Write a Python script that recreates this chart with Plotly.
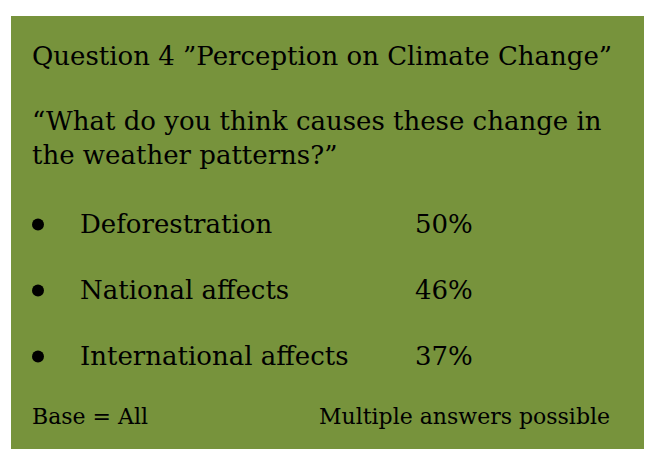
import plotly.graph_objects as go

# ---- data ----
title_text = "Question 4 \u201dPerception on Climate Change\u201d"
question_lines = ["\u201cWhat do you think causes these change in", "the weather patterns?\u201d"]
items = ["Deforestration", "National affects", "International affects"]
values = [50, 46, 37]
footer_left = "Base = All"
footer_right = "Multiple answers possible"

# ---- style / layout ----
W, H = 652, 449
BODY_MARGIN = 8  # default page margin around the plot div
GREEN = "#77933C"
FONT = "DejaVu Serif"
BIG = 26
SMALL = 22

fig = go.Figure()

# row centers (screen pixel space, y downwards)
item_rows = [223.5 + i * 66 for i in range(len(items))]

# bullets
fig.add_trace(go.Scatter(
    x=[38] * len(items), y=[r + 1 for r in item_rows], mode="markers",
    marker=dict(color="black", size=12, symbol="circle"),
    hoverinfo="skip", showlegend=False,
))

ann = []
def add_text(x, y, txt, size=BIG):
    ann.append(dict(x=x, y=y, xref="x", yref="y", text=txt, showarrow=False,
                    xanchor="left", yanchor="middle",
                    font=dict(family=FONT, size=size, color="black")))

add_text(30, 56, title_text)
add_text(30, 121, question_lines[0])
add_text(30, 155, question_lines[1])
for y, name, v in zip(item_rows, items, values):
    add_text(78, y, name)
    add_text(413, y, f"{v}%")
add_text(30, 416.5, footer_left, SMALL)
add_text(317, 416.5, footer_right, SMALL)

fig.update_layout(
    width=W - BODY_MARGIN, height=H - BODY_MARGIN,
    margin=dict(l=0, r=0, t=0, b=0),
    paper_bgcolor="white", plot_bgcolor="white",
    xaxis=dict(range=[BODY_MARGIN, W], visible=False, fixedrange=True),
    yaxis=dict(range=[H, BODY_MARGIN], visible=False, fixedrange=True),
    shapes=[dict(type="rect", xref="x", yref="y", x0=11, x1=649, y0=16, y1=H,
                 fillcolor=GREEN, line=dict(width=0), layer="below")],
    annotations=ann,
)

fig.write_html("out.html")
